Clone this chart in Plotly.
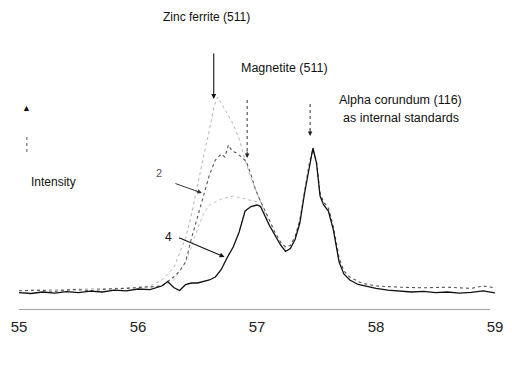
import plotly.graph_objects as go

# ---- data (2 theta, intensity in arbitrary units) ----
theta4 = [55.0, 55.1, 55.2, 55.3, 55.4, 55.5, 55.6, 55.7, 55.8, 55.9, 56.0, 56.1, 56.2, 56.25,
          56.3, 56.35, 56.4, 56.45, 56.5, 56.55, 56.6, 56.65, 56.7, 56.75, 56.8, 56.85, 56.9,
          56.95, 57.0, 57.03, 57.06, 57.1, 57.15, 57.2, 57.24, 57.28, 57.32, 57.36, 57.4, 57.44,
          57.47, 57.5, 57.53, 57.56, 57.6, 57.64, 57.69, 57.73, 57.78, 57.85, 57.9, 58.0, 58.1,
          58.2, 58.3, 58.4, 58.5, 58.6, 58.7, 58.8, 58.9, 59.0]
int4 = [5.8, 5.5, 6.0, 5.6, 6.1, 5.8, 6.3, 6.0, 6.6, 6.4, 7.0, 6.8, 8.0, 9.5,
        7.5, 6.5, 8.5, 9.0, 9.0, 9.5, 10.0, 11.0, 13.5, 17.5, 21.0, 26.0, 33.0,
        34.5, 35.0, 34.5, 32.0, 28.5, 25.0, 21.5, 19.5, 20.5, 23.5, 29.0, 39.0, 48.0,
        54.0, 49.0, 38.0, 35.0, 33.0, 27.0, 16.0, 12.0, 10.0, 8.5, 8.0, 7.2, 6.6,
        6.3, 6.0, 6.2, 5.8, 6.0, 5.6, 5.9, 6.4, 5.7]

theta2 = [55.0, 55.15, 55.3, 55.45, 55.6, 55.75, 55.9, 56.05, 56.2, 56.25, 56.3, 56.35, 56.4,
          56.45, 56.5, 56.55, 56.6, 56.65, 56.7, 56.73, 56.76, 56.79, 56.82, 56.87, 56.91,
          56.95, 56.98, 57.01, 57.05, 57.1, 57.15, 57.2, 57.24, 57.28, 57.32, 57.36, 57.4,
          57.44, 57.47, 57.5, 57.53, 57.56, 57.6, 57.64, 57.69, 57.73, 57.78, 57.85, 57.9,
          58.0, 58.2, 58.4, 58.6, 58.8, 58.9, 59.0]
int2 = [6.4, 6.6, 6.2, 6.8, 6.5, 7.0, 7.2, 7.6, 8.0, 9.5, 11.0, 13.0, 16.0,
        24.0, 31.0, 38.0, 45.0, 50.0, 52.0, 51.0, 55.0, 53.0, 52.5, 51.0, 49.5,
        45.0, 41.0, 38.0, 34.5, 30.0, 26.0, 22.5, 21.0, 21.5, 24.5, 30.0, 40.0,
        49.0, 53.5, 49.5, 39.0, 36.0, 34.0, 28.0, 17.5, 13.0, 11.0, 9.5, 8.8,
        8.0, 7.6, 7.4, 7.6, 7.2, 8.0, 7.4]

theta1 = [55.0, 55.3, 55.6, 55.9, 56.1, 56.2, 56.3, 56.4, 56.45, 56.5, 56.55, 56.6, 56.64,
          56.67, 56.7, 56.74, 56.8, 56.85, 56.9, 56.95, 57.0, 57.05, 57.1, 57.15, 57.2, 57.24]
int1 = [6.5, 6.8, 7.0, 7.3, 8.0, 10.0, 14.0, 24.0, 32.0, 42.0, 51.0, 60.0, 68.0,
        71.0, 69.0, 66.0, 62.0, 57.0, 50.0, 44.0, 39.0, 34.0, 29.0, 25.0, 22.0, 20.5]

theta3 = [56.1, 56.2, 56.3, 56.4, 56.45, 56.5, 56.55, 56.6, 56.7, 56.8, 56.9, 57.0, 57.05]
int3 = [7.5, 8.0, 10.0, 16.0, 21.0, 27.0, 32.0, 35.0, 37.0, 38.0, 37.0, 36.0, 33.0]

tick_vals = [55, 56, 57, 58, 59]
tick_text = ["55", "56", "57", "58", "59"]

# ---- layout helpers: pixel -> data (plot area 19..503 px, 10..310 px) ----
L, R, T, B = 19, 9, 10, 59
W, H = 512, 369
XR = (55, 59)
YR = (0, 100)


def px(x):
    return XR[0] + (x - L) / (W - L - R) * (XR[1] - XR[0])


def py(y):
    return YR[0] + (H - B - y) / (H - T - B) * (YR[1] - YR[0])


FONT = "Liberation Sans, Arial, sans-serif"

fig = go.Figure()
fig.add_trace(go.Scatter(x=theta1, y=int1, mode="lines", name="1",
                         line=dict(color="#b4b4b4", width=1, dash="dot")))
fig.add_trace(go.Scatter(x=theta3, y=int3, mode="lines", name="3",
                         line=dict(color="#c0c0c0", width=1, dash="dot")))
fig.add_trace(go.Scatter(x=theta2, y=int2, mode="lines", name="2",
                         line=dict(color="#555555", width=1.1, dash="dot")))
fig.add_trace(go.Scatter(x=theta4, y=int4, mode="lines", name="4",
                         line=dict(color="#111111", width=1.3)))

anns = []


def text(t, x, y, size=12, color="#111"):
    anns.append(dict(x=px(x), y=py(y), text=t, showarrow=False,
                     font=dict(family=FONT, size=size, color=color),
                     xanchor="center", yanchor="middle"))


def arrow(x0, y0, x1, y1, color="#111", width=1.1):
    anns.append(dict(x=px(x1), y=py(y1), ax=x0 - x1, ay=y0 - y1, text="",
                     showarrow=True, arrowhead=2, arrowsize=0.9,
                     arrowwidth=width, arrowcolor=color))


text("Zinc ferrite (511)", 210, 17, 12)
arrow(217, 52, 217, 99)
text("Magnetite (511)", 289, 68, 12.5)
text("Alpha corundum (116)", 407, 100, 12.5)
text("as internal standards", 407, 118, 12.5)
text("2", 161, 173, 11, "#555")
arrow(177, 183, 205, 193, "#333", 1)
text("4", 171, 237, 12)
arrow(181, 237, 228, 257, "#111", 1.1)
text("\u25B2", 27, 108, 9)
text("Intensity", 54, 182, 12)
text("2 theta", 415, 358, 12)

# dotted guide arrows
arrow(251, 150, 251, 158, "#222", 1)
arrow(315, 128, 315, 136, "#222", 1)

shapes = [
    dict(type="line", xref="x", yref="y", x0=px(251), x1=px(251), y0=py(100), y1=py(152),
         line=dict(color="#333", width=1, dash="dot")),
    dict(type="line", xref="x", yref="y", x0=px(315), x1=px(315), y0=py(104), y1=py(130),
         line=dict(color="#333", width=1, dash="dot")),
    dict(type="line", xref="x", yref="y", x0=px(27), x1=px(27), y0=py(137), y1=py(152),
         line=dict(color="#555", width=1, dash="dot")),
    dict(type="line", xref="x", yref="y", x0=px(17), x1=px(498), y0=0, y1=0,
         line=dict(color="#444", width=1)),
]

fig.update_layout(
    width=W, height=H,
    margin=dict(l=L, r=R, t=T, b=B),
    paper_bgcolor="white", plot_bgcolor="white",
    showlegend=False,
    annotations=anns, shapes=shapes,
    xaxis=dict(range=list(XR), tickvals=tick_vals, ticktext=tick_text,
               showgrid=False, zeroline=False, showline=False, ticks="",
               ticklabelstandoff=6,
               tickfont=dict(family=FONT, size=15, color="#222")),
    yaxis=dict(range=list(YR), visible=False, showgrid=False, zeroline=False),
)

fig.write_html("out.html")
